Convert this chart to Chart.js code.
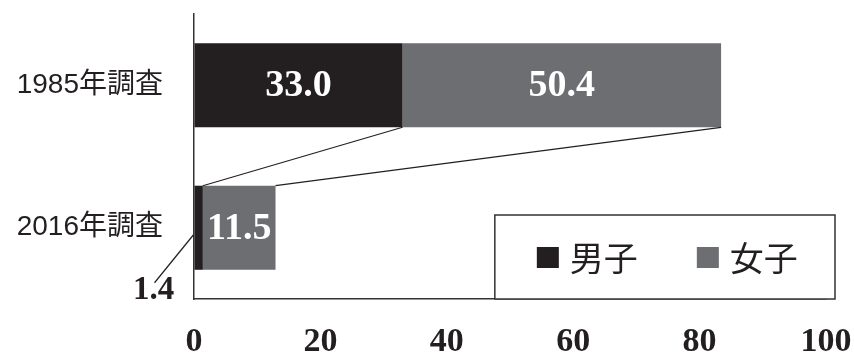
<!DOCTYPE html>
<html>
<head>
<meta charset="utf-8">
<script src="https://cdn.jsdelivr.net/npm/chart.js@4"></script>
<style>
  html, body { margin: 0; padding: 0; background: #fff; }
  #wrap { width: 854px; height: 353px; }
</style>
</head>
<body>
<div id="wrap"><canvas id="surveyChart" width="854" height="353"></canvas></div>
<script>
// survey years and shares (%) per group
const categories = ['1985年調査', '2016年調査'];
const boys = [33.0, 1.4];
const girls = [50.4, 11.5];
const xTicks = [0, 20, 40, 60, 80, 100];
const seriesNames = ['男子', '女子'];
const seriesColors = ['#231f20', '#6d6e71'];

const serif = '"Liberation Serif", "Times New Roman", serif';
const sans = '"Liberation Sans", "Noto Sans CJK JP", sans-serif';
const cjk = '"Noto Sans CJK JP", sans-serif';

// value labels, connector lines, callout and boxed legend
const decorations = {
  id: 'decorations',
  afterDatasetsDraw(chart) {
    const ctx = chart.ctx;
    const m0 = chart.getDatasetMeta(0).data;
    const m1 = chart.getDatasetMeta(1).data;

    ctx.save();
    // connectors between the two surveys
    ctx.strokeStyle = '#231f20';
    ctx.lineWidth = 1.2;
    [m0, m1].forEach(bars => {
      const a = bars[0], b = bars[1];
      ctx.beginPath();
      ctx.moveTo(a.x, a.y + a.height / 2);
      ctx.lineTo(b.x, b.y - b.height / 2);
      ctx.stroke();
    });

    // numbers inside the bars
    ctx.fillStyle = '#fff';
    ctx.font = 'bold 38px ' + serif;
    ctx.textAlign = 'center';
    ctx.textBaseline = 'middle';
    chart.data.datasets.forEach((ds, di) => {
      chart.getDatasetMeta(di).data.forEach((bar, i) => {
        const v = ds.data[i];
        if (v < 5) return;
        ctx.fillText(v.toFixed(1), (bar.x + bar.base) / 2, bar.y + 1);
      });
    });

    // small value shown outside with a leader line
    chart.data.datasets.forEach((ds, di) => {
      chart.getDatasetMeta(di).data.forEach((bar, i) => {
        const v = ds.data[i];
        if (v >= 5) return;
        ctx.beginPath();
        ctx.moveTo(bar.base - 1, bar.y + 7);
        ctx.lineTo(bar.base - 40, bar.y + 55);
        ctx.stroke();
        ctx.fillStyle = '#231f20';
        ctx.font = 'bold 33px ' + serif;
        ctx.fillText(v.toFixed(1), bar.base - 41, bar.y + 63);
      });
    });
    ctx.restore();
  },
  afterDraw(chart) {
    const ctx = chart.ctx;
    const area = chart.chartArea;
    const left = chart.scales.x.getPixelForValue(47.6);
    const right = area.right + 9;
    const bottom = area.bottom;
    const top = bottom - 84;

    ctx.save();
    ctx.fillStyle = '#fff';
    ctx.fillRect(left, top, right - left, bottom - top);
    ctx.strokeStyle = '#333';
    ctx.lineWidth = 1.5;
    ctx.strokeRect(left, top, right - left, bottom - top);

    ctx.font = '34px ' + cjk;
    ctx.textBaseline = 'middle';
    ctx.textAlign = 'left';
    const cy = top + 42;
    let x = left + 42;
    chart.data.datasets.forEach(ds => {
      ctx.fillStyle = ds.backgroundColor;
      ctx.fillRect(x, cy - 10, 22, 21);
      ctx.fillStyle = '#231f20';
      ctx.fillText(ds.label, x + 33, cy + 1);
      x += 160;
    });
    ctx.restore();
  }
};

// keep the plot area fixed: no extra edge padding from tick labels
function fixedEdges(size) {
  return scale => {
    if (scale.isHorizontal()) scale.height = size; else scale.width = size;
    scale.paddingTop = 0;
    scale.paddingBottom = 0;
    scale.paddingLeft = 0;
    scale.paddingRight = 0;
  };
}

new Chart(document.getElementById('surveyChart'), {
  type: 'bar',
  data: {
    labels: categories,
    datasets: [
      { label: seriesNames[0], data: boys, backgroundColor: seriesColors[0] },
      { label: seriesNames[1], data: girls, backgroundColor: seriesColors[1] }
    ]
  },
  options: {
    indexAxis: 'y',
    responsive: false,
    animation: false,
    events: [],
    layout: { padding: { top: 14, right: 28, left: 0, bottom: 0 } },
    datasets: {
      bar: { barPercentage: 0.59, categoryPercentage: 1, borderWidth: 0 }
    },
    plugins: {
      legend: { display: false },
      tooltip: { enabled: false }
    },
    scales: {
      x: {
        stacked: true,
        min: 0,
        max: 100,
        afterFit: fixedEdges(54),
        afterBuildTicks: scale => { scale.ticks = xTicks.map(v => ({ value: v })); },
        grid: { drawOnChartArea: false, drawTicks: false },
        border: { color: '#333', width: 1.5 },
        ticks: {
          padding: 23,
          color: '#231f20',
          font: { family: serif, size: 34, weight: 'bold' }
        }
      },
      y: {
        stacked: true,
        afterFit: fixedEdges(194),
        grid: { drawOnChartArea: false, drawTicks: false },
        border: { color: '#333', width: 1.5 },
        ticks: {
          padding: 31,
          color: '#231f20',
          font: { family: sans, size: 28 }
        }
      }
    }
  },
  plugins: [decorations]
});
</script>
</body>
</html>
